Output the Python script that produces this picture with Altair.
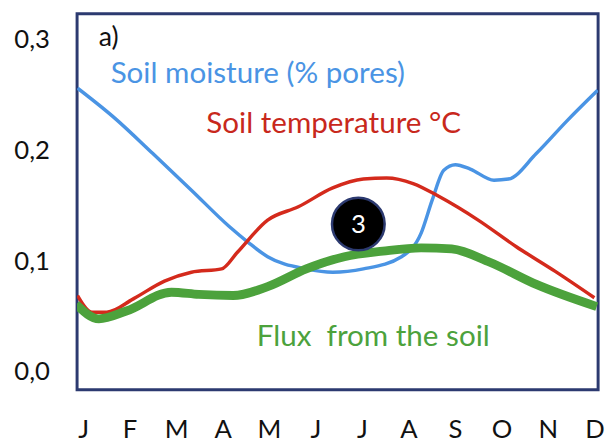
import altair as alt
import pandas as pd

months = ["J", "F", "M", "A", "M", "J", "J", "A", "S", "O", "N", "D"]

# Soil moisture (% pores) - blue
moist_x = [-0.12, 0.68, 1.50, 2.33, 3.15, 3.55, 3.97, 4.80, 5.37, 6.03, 6.85, 7.27, 7.51, 7.76, 8.01, 8.33, 8.84, 9.15, 9.75, 10.40, 11.07]
moist_y = [0.256, 0.229, 0.197, 0.164, 0.131, 0.117, 0.104, 0.093, 0.090, 0.093, 0.104, 0.125, 0.155, 0.182, 0.187, 0.183, 0.173, 0.174, 0.197, 0.226, 0.254]

# Soil temperature - red
temp_x = [-0.12, 0.19, 0.51, 1.08, 1.75, 2.33, 2.98, 3.32, 3.97, 4.63, 5.37, 6.03, 6.53, 7.10, 7.67, 8.50, 9.32, 10.15, 11.00]
temp_y = [0.069, 0.054, 0.054, 0.066, 0.082, 0.090, 0.093, 0.108, 0.137, 0.149, 0.166, 0.174, 0.175, 0.170, 0.158, 0.137, 0.113, 0.091, 0.067]

# Flux from the soil - green
flux_x = [-0.15, 0.34, 0.93, 1.90, 2.49, 3.23, 3.97, 4.80, 5.62, 6.45, 7.27, 7.93, 8.75, 9.75, 11.05]
flux_y = [0.061, 0.048, 0.055, 0.072, 0.070, 0.069, 0.077, 0.093, 0.104, 0.109, 0.112, 0.111, 0.099, 0.079, 0.059]

FONT = "Lato"
XDOM = [-0.13, 11.08]
YDOM = [-0.016, 0.323]

moist = pd.DataFrame({"x": moist_x, "y": moist_y})
temp = pd.DataFrame({"x": temp_x, "y": temp_y})
flux = pd.DataFrame({"x": flux_x, "y": flux_y})

label_expr = "[" + ",".join("'%s'" % m for m in months) + "][datum.value]"

xenc = alt.X("x:Q", scale=alt.Scale(domain=XDOM, nice=False, zero=False),
             axis=alt.Axis(values=list(range(12)), labelExpr=label_expr, title=None,
                           ticks=False, domain=False, grid=False, labelFontSize=26,
                           labelFont=FONT, labelColor="#111111", labelPadding=40,
                           labelBaseline="middle", labelFlush=False))
yenc = alt.Y("y:Q", scale=alt.Scale(domain=YDOM, nice=False, zero=False),
             axis=alt.Axis(values=[0, 0.1, 0.2, 0.3],
                           labelExpr="replace(format(datum.value, '.1f'), '.', ',')",
                           title=None, ticks=False, domain=False, grid=False,
                           labelFontSize=26, labelFont=FONT, labelColor="#111111",
                           labelPadding=28, labelFlush=False))

base_m = alt.Chart(moist).mark_line(color="#4A94E4", strokeWidth=3.5, interpolate="monotone", clip=True).encode(x=xenc, y=yenc)
base_t = alt.Chart(temp).mark_line(color="#D42A1C", strokeWidth=3.5, interpolate="monotone", clip=True).encode(x="x:Q", y="y:Q")
base_f = alt.Chart(flux).mark_line(color="#4CA23C", strokeWidth=9, interpolate="monotone", clip=True).encode(x="x:Q", y="y:Q")

ann = pd.DataFrame({"k": [0]})

def txt(s, px, py, color, size=30):
    return alt.Chart(ann).mark_text(text=s, align="left", baseline="middle", font=FONT,
                                    fontSize=size, color=color).encode(x=alt.value(px), y=alt.value(py))

t_a = txt("a)", 22, 25, "#111111", 27)
t_m = txt("Soil moisture (% pores)", 34, 61, "#4A94E4")
t_t = txt("Soil temperature °C", 131, 112, "#C8281C")
t_f = txt("Flux\u00a0\u00a0from the soil", 182, 328, "#4CA23C")

circ = alt.Chart(ann).mark_point(shape="circle", filled=True, size=2850, color="black",
                                 stroke="#2C3A70", strokeWidth=2.5, opacity=1).encode(
    x=alt.value(285), y=alt.value(213))
circ_t = alt.Chart(ann).mark_text(text="3", font=FONT, fontSize=26, color="white",
                                  align="center", baseline="middle").encode(
    x=alt.value(285), y=alt.value(214))

chart = alt.layer(base_m, base_t, base_f, circ, circ_t, t_a, t_m, t_t, t_f).properties(
    width=528, height=381,
    autosize=alt.AutoSizeParams(type="none"),
    padding={"left": 70, "top": 3, "right": 8, "bottom": 50},
).configure_view(stroke="#2C3A70", strokeWidth=3)

chart.save("out.html", embed_options={"renderer": "svg", "actions": False})
